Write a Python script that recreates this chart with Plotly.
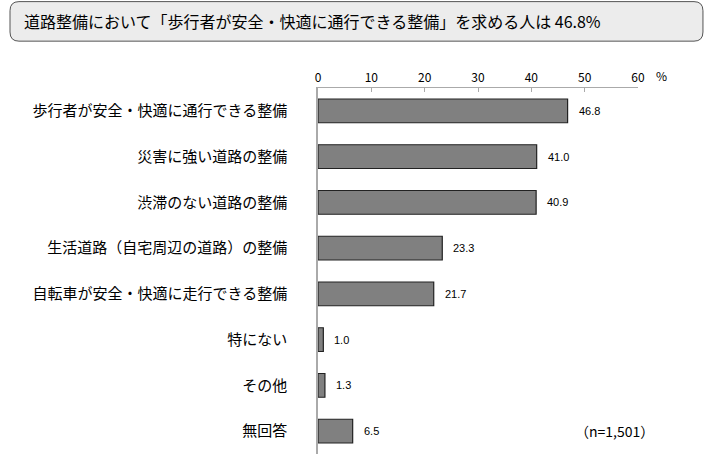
import plotly.graph_objects as go

categories = ["歩行者が安全・快適に通行できる整備", "災害に強い道路の整備", "渋滞のない道路の整備",
              "生活道路（自宅周辺の道路）の整備", "自転車が安全・快適に走行できる整備",
              "特にない", "その他", "無回答"]
values = [46.8, 41.0, 40.9, 23.3, 21.7, 1.0, 1.3, 6.5]
tick_vals = [0, 10, 20, 30, 40, 50, 60]

title_text = "道路整備において「歩行者が安全・快適に通行できる整備」を求める人は 46.8%"
sample_note = "（n=1,501）"
font_jp = "Noto Sans CJK JP"

fig = go.Figure(go.Bar(
    x=values, y=categories, orientation="h",
    marker=dict(color="#808080", line=dict(color="#222222", width=1.2)),
    hoverinfo="x+y",
))

# value labels just past the bar ends
for c, v in zip(categories, values):
    fig.add_annotation(x=v, y=c, text=f"{v:.1f}", showarrow=False,
                       xanchor="left", xshift=9,
                       font=dict(family="Liberation Sans", size=11, color="#000"))

# rounded title box (paper coords)
x0, x1, y0, y1 = -0.9625, 1.203, 1.128, 1.236
rx, ry = 0.028, 0.025
path = (f"M {x0+rx},{y1} L {x1-rx},{y1} Q {x1},{y1} {x1},{y1-ry} "
        f"L {x1},{y0+ry} Q {x1},{y0} {x1-rx},{y0} L {x0+rx},{y0} "
        f"Q {x0},{y0} {x0},{y0+ry} L {x0},{y1-ry} Q {x0},{y1} {x0+rx},{y1} Z")
fig.add_shape(type="path", path=path, xref="paper", yref="paper",
              fillcolor="#ececec", line=dict(color="#555555", width=1))
fig.add_annotation(x=-0.925, y=(y0 + y1) / 2, xref="paper", yref="paper",
                   text=title_text, showarrow=False, xanchor="left", yanchor="middle",
                   font=dict(size=16, color="#000"))

fig.add_annotation(x=1.05, y=1.005, xref="paper", yref="paper", text="%",
                   showarrow=False, xanchor="left", yanchor="bottom",
                   font=dict(size=12, color="#000"))
fig.add_annotation(x=1.055, y=categories[-1], xref="paper", yref="y", text=sample_note,
                   showarrow=False, xanchor="right", yanchor="middle",
                   font=dict(size=14, color="#000"))

fig.update_layout(
    width=710, height=457,
    margin=dict(l=318, r=72, t=88, b=3),
    paper_bgcolor="white", plot_bgcolor="white",
    font=dict(family=font_jp, color="#000"),
    bargap=0.48, showlegend=False,
    xaxis=dict(side="top", range=[0, 60], tickvals=tick_vals, ticks="inside",
               ticklen=4, tickcolor="#aaaaaa", showgrid=False, zeroline=False,
               showline=True, linecolor="#aaaaaa", linewidth=1,
               tickfont=dict(size=12), automargin=False),
    yaxis=dict(autorange="reversed", showline=True, linecolor="#aaaaaa",
               linewidth=1.5, ticks="", showgrid=False, automargin=False,
               ticklabelstandoff=26, tickfont=dict(size=15)),
)

# drop the default 8px page margin so the figure fills the window
fig.write_html("out.html", config={"displayModeBar": False},
               post_script="document.body.style.margin='0';")
